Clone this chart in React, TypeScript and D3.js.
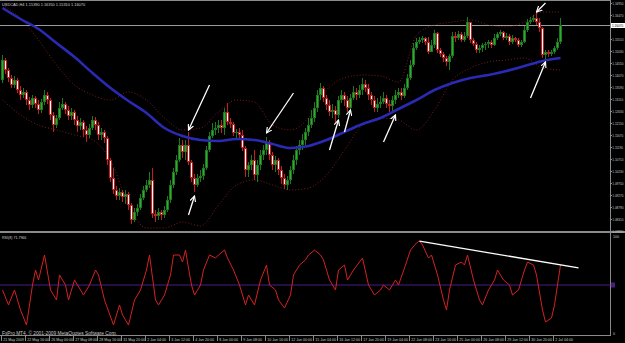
import React, { useEffect } from 'react';
import * as d3 from 'd3';

const symbolTitle = 'USDCAD,H4 1.15390 1.16350 1.15310 1.16070';
const rsiTitle = 'RSI(8) 71.7966';
const copyright = 'FxPro MT4, \u00A9 2001-2009 MetaQuotes Software Corp.';

const firstOpen = 1.1387;
const closes = [
  1.1467,1.1427,1.1395,1.1367,1.1387,1.1347,1.1327,1.1339,1.1307,1.1287,
  1.1315,1.1291,1.1267,1.1299,1.1327,1.1307,1.1247,1.1207,1.1235,1.1275,
  1.1291,1.1267,1.1243,1.1259,1.1227,1.1203,1.1219,1.1187,1.1167,1.1195,
  1.1227,1.1207,1.1167,1.1179,1.1155,1.1067,1.0995,1.0947,1.0923,1.0939,
  1.0919,1.0931,1.0887,1.0827,1.0859,1.0875,1.0915,1.0947,1.0967,1.0987,
  1.0851,1.0843,1.0859,1.0847,1.0867,1.0907,1.0967,1.1019,1.1067,1.1127,
  1.1099,1.1127,1.1059,1.0995,1.0967,1.0995,1.1003,1.1035,1.1107,1.1163,
  1.1187,1.1195,1.1207,1.1195,1.1259,1.1219,1.1211,1.1175,1.1179,1.1167,
  1.1115,1.1027,1.1047,1.1067,1.1007,1.1047,1.1087,1.1107,1.1139,1.1087,
  1.1047,1.1067,1.1027,1.0995,1.0967,1.0987,1.1027,1.1067,1.1107,1.1127,
  1.1147,1.1179,1.1207,1.1235,1.1275,1.1327,1.1355,1.1315,1.1287,1.1259,
  1.1267,1.1247,1.1307,1.1327,1.1307,1.1275,1.1315,1.1339,1.1327,1.1347,
  1.1371,1.1355,1.1327,1.1307,1.1275,1.1291,1.1299,1.1315,1.1291,1.1283,
  1.1307,1.1327,1.1339,1.1323,1.1355,1.1395,1.1447,1.1515,1.1539,1.1547,
  1.1555,1.1539,1.1499,1.1527,1.1575,1.1507,1.1491,1.1475,1.1459,1.1483,
  1.1563,1.1555,1.1571,1.1547,1.1563,1.1619,1.1547,1.1531,1.1507,1.1515,
  1.1527,1.1531,1.1539,1.1527,1.1555,1.1571,1.1579,1.1555,1.1563,1.1539,
  1.1555,1.1547,1.1527,1.1539,1.1587,1.1619,1.1627,1.1635,1.1619,1.1595,
  1.1487,1.1499,1.1491,1.1499,1.1515,1.1539,1.1607
];
const highs = [
  1.1487,1.1475,1.1435,1.1407,1.1403,1.1395,1.1363,1.1355,1.1347,1.1319,
  1.1327,1.1323,1.1307,1.1311,1.1347,1.1339,1.1315,1.1259,1.1247,1.1299,
  1.1315,1.1299,1.1283,1.1275,1.1267,1.1243,1.1235,1.1227,1.1203,1.1211,
  1.1243,1.1239,1.1219,1.1195,1.1187,1.1163,1.1075,1.1035,1.0963,1.0955,
  1.0947,1.0947,1.0939,1.0895,1.0875,1.0891,1.0931,1.0963,1.0987,1.1019,
  1.1035,1.0867,1.0875,1.0867,1.0883,1.0923,1.0987,1.1035,1.1087,1.1155,
  1.1147,1.1147,1.1179,1.1067,1.1011,1.1011,1.1027,1.1051,1.1123,1.1179,
  1.1215,1.1219,1.1227,1.1227,1.1275,1.1295,1.1235,1.1219,1.1191,1.1195,
  1.1187,1.1123,1.1059,1.1087,1.1107,1.1067,1.1107,1.1127,1.1159,1.1147,
  1.1099,1.1083,1.1075,1.1043,1.1011,1.1003,1.1043,1.1087,1.1123,1.1147,
  1.1171,1.1195,1.1235,1.1267,1.1299,1.1347,1.1375,1.1363,1.1327,1.1307,
  1.1291,1.1283,1.1323,1.1347,1.1339,1.1323,1.1331,1.1363,1.1355,1.1367,
  1.1395,1.1387,1.1371,1.1339,1.1323,1.1315,1.1323,1.1339,1.1327,1.1307,
  1.1323,1.1347,1.1355,1.1355,1.1371,1.1411,1.1467,1.1535,1.1555,1.1559,
  1.1563,1.1559,1.1559,1.1547,1.1587,1.1579,1.1515,1.1499,1.1483,1.1491,
  1.1579,1.1579,1.1583,1.1579,1.1579,1.1639,1.1619,1.1555,1.1539,1.1527,
  1.1535,1.1539,1.1547,1.1547,1.1571,1.1579,1.1587,1.1583,1.1575,1.1571,
  1.1567,1.1559,1.1555,1.1547,1.1603,1.1631,1.1639,1.1647,1.1659,1.1635,
  1.1599,1.1507,1.1507,1.1507,1.1523,1.1555,1.1635
];
const lows = [
  1.1375,1.1411,1.1379,1.1355,1.1355,1.1335,1.1307,1.1315,1.1287,1.1267,
  1.1275,1.1275,1.1251,1.1255,1.1287,1.1291,1.1227,1.1179,1.1195,1.1227,
  1.1267,1.1251,1.1227,1.1227,1.1207,1.1179,1.1187,1.1159,1.1139,1.1155,
  1.1187,1.1187,1.1147,1.1147,1.1135,1.1047,1.0979,1.0931,1.0907,1.0907,
  1.0899,1.0891,1.0867,1.0811,1.0819,1.0843,1.0867,1.0907,1.0939,1.0955,
  1.0835,1.0819,1.0827,1.0827,1.0835,1.0859,1.0895,1.0955,1.1007,1.1059,
  1.1075,1.1067,1.1047,1.0979,1.0939,1.0959,1.0979,1.0987,1.1027,1.1099,
  1.1155,1.1167,1.1175,1.1175,1.1167,1.1207,1.1195,1.1163,1.1155,1.1155,
  1.1103,1.0999,1.0999,1.1027,1.0987,1.0979,1.1027,1.1067,1.1087,1.1067,
  1.1027,1.1019,1.1007,1.0971,1.0951,1.0947,1.0971,1.1011,1.1047,1.1087,
  1.1107,1.1127,1.1163,1.1195,1.1219,1.1259,1.1307,1.1299,1.1267,1.1243,
  1.1235,1.1219,1.1235,1.1295,1.1283,1.1259,1.1259,1.1307,1.1307,1.1315,
  1.1327,1.1339,1.1307,1.1287,1.1259,1.1259,1.1275,1.1291,1.1275,1.1259,
  1.1259,1.1291,1.1315,1.1307,1.1315,1.1347,1.1387,1.1439,1.1507,1.1531,
  1.1535,1.1527,1.1491,1.1499,1.1515,1.1495,1.1479,1.1459,1.1443,1.1427,
  1.1475,1.1539,1.1547,1.1539,1.1539,1.1555,1.1535,1.1523,1.1495,1.1495,
  1.1499,1.1507,1.1515,1.1515,1.1523,1.1547,1.1563,1.1547,1.1547,1.1527,
  1.1531,1.1539,1.1519,1.1519,1.1535,1.1579,1.1611,1.1619,1.1607,1.1579,
  1.1475,1.1463,1.1479,1.1483,1.1491,1.1507,1.1531
];

const timeLabels = [
  '21 May 2009','22 May 16:00','26 May 00:00','27 May 08:00','28 May 16:00','31 May 20:00',
  '2 Jun 04:00','3 Jun 12:00','4 Jun 20:00','8 Jun 00:00','9 Jun 08:00','10 Jun 16:00',
  '12 Jun 00:00','15 Jun 04:00','16 Jun 12:00','17 Jun 20:00','19 Jun 04:00','22 Jun 08:00',
  '23 Jun 16:00','25 Jun 00:00','26 Jun 08:00','29 Jun 12:00','30 Jun 20:00','2 Jul 04:00'
];
const barsPerLabel = 8;

const priceTicks = [
  1.1695,1.1647,1.1599,1.1551,1.1503,1.1455,1.1407,1.1359,1.1311,1.1263,
  1.1215,1.1167,1.1119,1.1071,1.1023,1.0975,1.0927,1.0879,1.0831,1.0783
];

// [bar index, value]
const maPoints: [number, number][] = [
  [0,1.1675],[6,1.1631],[12,1.1591],[18,1.1535],[24,1.1479],[30,1.1415],[36,1.1355],[42,1.1303],
  [48,1.1255],[54,1.1195],[60,1.1163],[66,1.1147],[72,1.1143],[78,1.1151],[84,1.1147],[90,1.1131],
  [96,1.1115],[102,1.1123],[108,1.1147],[114,1.1179],[120,1.1211],[126,1.1235],[132,1.1271],[138,1.1307],
  [144,1.1347],[150,1.1375],[156,1.1395],[162,1.1407],[168,1.1423],[174,1.1443],[180,1.1463],[186,1.1475]
];
const bbUpperPoints: [number, number][] = [
  [0,1.1687],[6,1.1635],[12,1.1547],[18,1.1447],[24,1.1367],[30,1.1327],[36,1.1307],[42,1.1339],
  [48,1.1307],[54,1.1235],[60,1.1187],[66,1.1195],[72,1.1259],[78,1.1307],[84,1.1299],[90,1.1207],
  [96,1.1187],[102,1.1235],[108,1.1347],[114,1.1395],[120,1.1407],[126,1.1403],[132,1.1379],[138,1.1567],
  [144,1.1607],[150,1.1619],[156,1.1627],[162,1.1607],[168,1.1599],[174,1.1619],[180,1.1659],[186,1.1659]
];
const bbLowerPoints: [number, number][] = [
  [0,1.1307],[6,1.1247],[12,1.1207],[18,1.1187],[24,1.1167],[30,1.1147],[36,1.1067],[42,1.0887],
  [48,1.0795],[54,1.0795],[60,1.0819],[66,1.0803],[72,1.0887],[78,1.0967],[84,1.0987],[90,1.0967],
  [96,1.0947],[102,1.0955],[108,1.1007],[114,1.1107],[120,1.1207],[126,1.1235],[132,1.1227],[138,1.1187],
  [144,1.1267],[150,1.1387],[156,1.1435],[162,1.1459],[168,1.1467],[174,1.1475],[180,1.1435],[186,1.1427]
];
const rsiPoints: [number, number][] = [
  [0,44.6],[2,28.3],[4,44.6],[6,22.8],[8,6.5],[10,50.0],[11,66.3],[12,55.4],[14,82.6],[16,44.6],
  [18,33.7],[19,60.9],[21,50.0],[22,33.7],[24,55.4],[26,44.6],[27,39.1],[29,50.0],[31,66.3],[32,60.9],
  [34,33.7],[37,6.5],[39,28.3],[40,17.4],[42,6.5],[44,33.7],[46,44.6],[48,66.3],[49,82.6],[51,33.7],
  [52,28.3],[54,39.1],[56,60.9],[57,82.6],[59,82.6],[60,75.0],[61,88.0],[62,68.5],[63,50.0],[64,39.1],
  [66,50.0],[67,66.3],[69,82.6],[71,79.3],[72,82.6],[74,88.0],[75,79.3],[77,66.3],[79,50.0],[81,28.3],
  [82,39.1],[84,28.3],[86,55.4],[88,71.7],[89,50.0],[91,44.6],[92,33.7],[94,25.0],[96,39.1],[97,60.9],
  [99,71.7],[101,77.2],[102,82.6],[104,88.0],[106,82.6],[107,77.2],[109,55.4],[111,44.6],[112,66.3],[114,71.7],
  [115,55.4],[117,66.3],[119,75.0],[120,79.3],[122,50.0],[124,39.1],[126,44.6],[127,50.0],[129,44.6],[131,55.4],
  [132,50.0],[134,68.5],[136,88.0],[138,95.7],[139,97.8],[140,93.5],[142,79.3],[143,82.6],[145,60.9],[147,33.7],
  [148,22.8],[149,44.6],[151,71.7],[153,75.0],[154,71.7],[155,82.6],[157,55.4],[159,33.7],[160,28.3],[162,44.6],
  [164,55.4],[165,66.3],[167,55.4],[169,50.0],[170,39.1],[172,44.6],[174,66.3],[175,75.0],[177,71.7],[178,60.9],
  [180,22.8],[181,9.8],[183,14.1],[184,28.3],[185,50.0],[186,71.8]
];
const rsiLevel = 50;
const rsiTrend: [number, number][] = [[139, 97.8], [192, 68.5]];

// annotation arrows: [bar, price] tail -> head
const arrowTails: [number, number][] = [
  [69,1.1367],[62,1.0847],[97,1.1335],[109,1.1107],[114,1.1179],[127,1.1139],[181,1.1695],[176,1.1315]
];
const arrowHeads: [number, number][] = [
  [62,1.1187],[64,1.0923],[88,1.1175],[112,1.1227],[116,1.1267],[131,1.1247],[178,1.1659],[181,1.1459]
];

const FONT = '"Liberation Sans", Arial, sans-serif';

export default function App() {
  useEffect(() => {
    document.body.style.margin = '0';
    document.body.style.background = '#000';
  }, []);

  const n = closes.length;
  const x = d3.scaleLinear().domain([0, n - 1]).range([1, 1 + 3 * (n - 1)]);
  const cx = (i: number) => x(i) + 1.5;
  const y = d3.scaleLinear().domain([1.0783, 1.1695]).range([231, 3]);
  const yr = d3.scaleLinear().domain([0, 100]).range([331, 239]);
  const axisX = 610.5;

  const opens = closes.map((c, i) => (i === 0 ? firstOpen : closes[i - 1]));

  const priceLine = d3.line<[number, number]>().x(d => cx(d[0])).y(d => y(d[1])).curve(d3.curveMonotoneX);
  const rsiLine = d3.line<[number, number]>().x(d => cx(d[0])).y(d => yr(d[1]));

  const last = closes[n - 1];
  const lastY = Math.round(y(last)) + 0.5;

  return (
    <div style={{ position: 'absolute', left: 0, top: 0 }}>
      <svg width={625} height={343} style={{ display: 'block', background: '#000' }} fontFamily={FONT}>
        <defs>
          <marker id="ah" viewBox="0 0 8 8" refX="7" refY="4" markerWidth="5" markerHeight="5" orient="auto">
            <path d="M0,0.5 L7,4 L0,7.5" fill="none" stroke="#fff" strokeWidth="1.4" />
          </marker>
        </defs>
        <rect x={0} y={0} width={625} height={343} fill="#000" />

        {/* frame lines */}
        <line x1={0} x2={axisX} y1={0.5} y2={0.5} stroke="#8a8a8a" />
        <rect x={0} y={231} width={625} height={2} fill="#8a8a8a" />
        <line x1={0} x2={axisX} y1={335.5} y2={335.5} stroke="#8a8a8a" />
        <line x1={axisX} x2={axisX} y1={0} y2={336} stroke="#8a8a8a" />

        {/* current price line */}
        <line x1={0} x2={axisX} y1={lastY} y2={lastY} stroke="#9a9a9a" strokeWidth={1} />

        {/* Bollinger bands */}
        {[bbUpperPoints, bbLowerPoints].map((pts, k) => (
          <path key={k} d={priceLine(pts) || ''} fill="none" stroke="#7a1c1c" strokeWidth={1} strokeDasharray="1,2" />
        ))}

        {/* candles */}
        {closes.map((c, i) => {
          const o = opens[i];
          const hi = Math.max(highs[i], o, c);
          const lo = Math.min(lows[i], o, c);
          const bull = c >= o;
          const edge = bull ? '#1b7a1b' : '#c41e1e';
          const inner = bull ? '#34a834' : '#ffffff';
          const yt = Math.round(y(Math.max(o, c)));
          const yb = Math.round(y(Math.min(o, c)));
          const h = Math.max(1, yb - yt);
          const left = x(i);
          return (
            <g key={i}>
              <line x1={cx(i)} x2={cx(i)} y1={y(hi)} y2={y(lo)} stroke={edge} strokeWidth={1} />
              <rect x={left} y={yt} width={3} height={h} fill={edge} />
              {h > 2 && <rect x={left + 1} y={yt + 1} width={1} height={h - 2} fill={inner} />}
            </g>
          );
        })}

        {/* moving average */}
        <path d={priceLine(maPoints) || ''} fill="none" stroke="#2a2ab4" strokeWidth={2.6} />

        {/* arrows */}
        {arrowTails.map((t, k) => (
          <line key={k} x1={cx(t[0])} y1={y(t[1])} x2={cx(arrowHeads[k][0])} y2={y(arrowHeads[k][1])}
            stroke="#fff" strokeWidth={1.3} markerEnd="url(#ah)" />
        ))}

        {/* price axis */}
        {priceTicks.map((p, k) => {
          const yy = Math.round(y(p)) + 0.5;
          if (Math.abs(yy - lastY) < 5) return null;
          return (
            <g key={k}>
              <line x1={axisX} x2={axisX + 1.5} y1={yy} y2={yy} stroke="#8a8a8a" />
              <text x={612.3} y={yy + 1.2} fontSize={3.1} fill="#c8c8c8">{p.toFixed(5)}</text>
            </g>
          );
        })}
        <rect x={611} y={lastY - 2.5} width={14} height={5} fill="#fff" />
        <text x={612} y={lastY + 1.2} fontSize={3.1} fill="#000">{last.toFixed(5)}</text>

        {/* title */}
        <text x={2} y={5.5} fontSize={3.9} fill="#d0d0d0">{symbolTitle}</text>

        {/* RSI panel */}
        <line x1={0} x2={axisX} y1={yr(rsiLevel)} y2={yr(rsiLevel)} stroke="#4b1c86" strokeWidth={1} />
        <rect x={611} y={yr(rsiLevel) - 2.5} width={4} height={5} fill="#4b1c86" />
        <path d={rsiLine(rsiPoints) || ''} fill="none" stroke="#d42222" strokeWidth={1} />
        <line x1={cx(rsiTrend[0][0])} y1={yr(rsiTrend[0][1])} x2={cx(rsiTrend[1][0])} y2={yr(rsiTrend[1][1])}
          stroke="#fff" strokeWidth={1.3} />
        <text x={2} y={238.5} fontSize={3.6} fill="#d0d0d0">{rsiTitle}</text>
        <text x={613} y={238} fontSize={3.6} fill="#c8c8c8">100</text>
        <text x={613} y={335} fontSize={3.6} fill="#c8c8c8">0</text>

        {/* time axis */}
        <text x={2} y={334.6} fontSize={4.8} fill="#c8c8c8">{copyright}</text>
        {timeLabels.map((t, k) => {
          const xx = Math.round(x(k * barsPerLabel)) + 0.5;
          return (
            <g key={k}>
              <line x1={xx} x2={xx} y1={336} y2={341} stroke="#8a8a8a" />
              <text x={xx + 1.8} y={341.3} fontSize={3.6} fill="#c8c8c8">{t}</text>
            </g>
          );
        })}
      </svg>
    </div>
  );
}
